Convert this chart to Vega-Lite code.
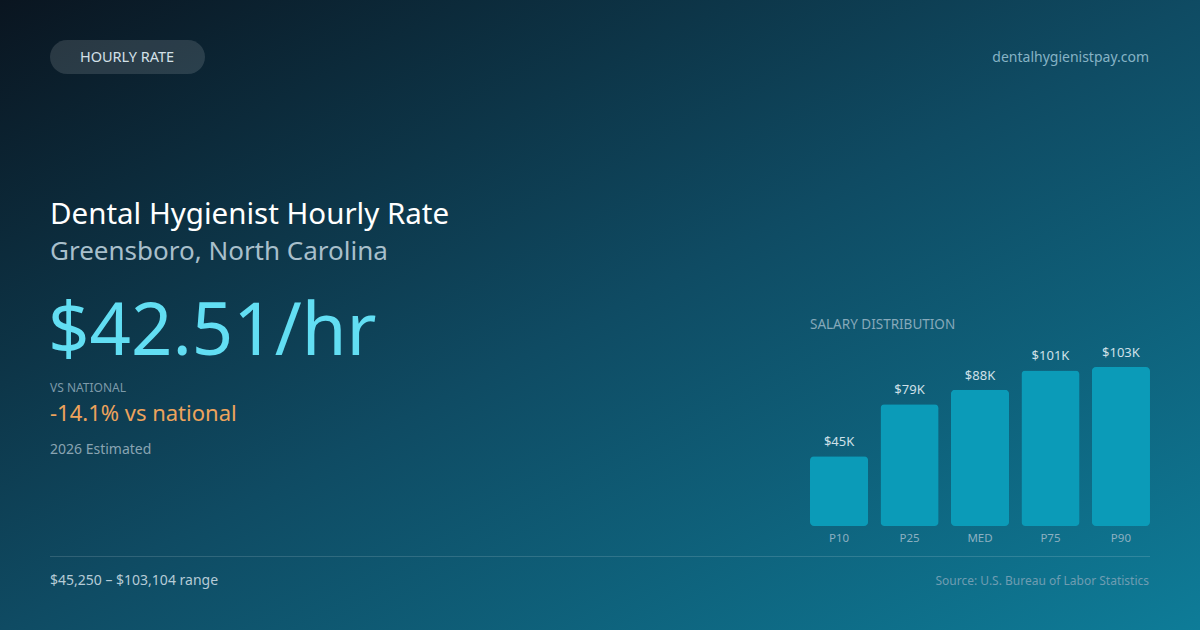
{
  "$schema": "https://vega.github.io/schema/vega-lite/v6.json",
  "width": 1200,
  "height": 630,
  "padding": 0,
  "autosize": {"type": "fit", "contains": "padding"},
  "background": "#0c1824",
  "config": {
    "view": {"stroke": null, "fill": {"gradient": "linear", "x1": 0, "y1": 0, "x2": 1, "y2": 1, "stops": [{"offset": 0, "color": "#0a1520"}, {"offset": 0.5, "color": "#0f4b63"}, {"offset": 1, "color": "#0e7c98"}]}},
    "font": "Noto Sans",
    "text": {"font": "Noto Sans"}
  },
  "datasets": {
    "dist": [
      {"pct": "P10", "salary": 45250, "label": "$45K"},
      {"pct": "P25", "salary": 79000, "label": "$79K"},
      {"pct": "MED", "salary": 88420, "label": "$88K"},
      {"pct": "P75", "salary": 100900, "label": "$101K"},
      {"pct": "P90", "salary": 103104, "label": "$103K"}
    ],
    "one": [{}]
  },
  "layer": [
    {
      "data": {"name": "one"},
      "mark": {"type": "rect", "cornerRadius": 17, "fill": "#ffffff", "fillOpacity": 0.13},
      "encoding": {"x": {"value": 50}, "x2": {"value": 205}, "y": {"value": 40}, "y2": {"value": 74}}
    },
    {
      "data": {"name": "one"},
      "mark": {"type": "text", "text": "HOURLY RATE", "align": "center", "baseline": "middle", "fontSize": 14.5, "color": "#d3e0e8"},
      "encoding": {"x": {"value": 127}, "y": {"value": 58}}
    },
    {
      "data": {"name": "one"},
      "mark": {"type": "text", "text": "dentalhygienistpay.com", "align": "right", "baseline": "middle", "fontSize": 14, "color": "#86b3c5"},
      "encoding": {"x": {"value": 1149}, "y": {"value": 58}}
    },
    {
      "data": {"name": "one"},
      "mark": {"type": "text", "text": "Dental Hygienist Hourly Rate", "align": "left", "baseline": "alphabetic", "fontSize": 29.5, "color": "#ffffff"},
      "encoding": {"x": {"value": 50}, "y": {"value": 224}}
    },
    {
      "data": {"name": "one"},
      "mark": {"type": "text", "text": "Greensboro, North Carolina", "align": "left", "baseline": "alphabetic", "fontSize": 26, "color": "#a8bfcb"},
      "encoding": {"x": {"value": 50}, "y": {"value": 260}}
    },
    {
      "data": {"name": "one"},
      "mark": {"type": "text", "text": "$42.51/hr", "align": "left", "baseline": "alphabetic", "fontSize": 72.5, "color": "#62def3"},
      "encoding": {"x": {"value": 48}, "y": {"value": 355}}
    },
    {
      "data": {"name": "one"},
      "mark": {"type": "text", "text": "VS NATIONAL", "align": "left", "baseline": "alphabetic", "fontSize": 12, "color": "#7d9aa9"},
      "encoding": {"x": {"value": 50}, "y": {"value": 392}}
    },
    {
      "data": {"name": "one"},
      "mark": {"type": "text", "text": "-14.1% vs national", "align": "left", "baseline": "alphabetic", "fontSize": 22, "color": "#eda35c"},
      "encoding": {"x": {"value": 50}, "y": {"value": 421}}
    },
    {
      "data": {"name": "one"},
      "mark": {"type": "text", "text": "2026 Estimated", "align": "left", "baseline": "alphabetic", "fontSize": 14, "color": "#89a4b2"},
      "encoding": {"x": {"value": 50}, "y": {"value": 454}}
    },
    {
      "data": {"name": "one"},
      "mark": {"type": "text", "text": "SALARY DISTRIBUTION", "align": "left", "baseline": "middle", "fontSize": 13.5, "color": "#86a9ba"},
      "encoding": {"x": {"value": 810}, "y": {"value": 325}}
    },
    {
      "data": {"name": "one"},
      "mark": {"type": "rule", "stroke": "#ffffff", "strokeOpacity": 0.14, "strokeWidth": 1},
      "encoding": {"x": {"value": 50}, "x2": {"value": 1150}, "y": {"value": 556.5}}
    },
    {
      "data": {"name": "one"},
      "mark": {"type": "text", "text": "$45,250 – $103,104 range", "align": "left", "baseline": "middle", "fontSize": 14, "color": "#b6cbd6"},
      "encoding": {"x": {"value": 50}, "y": {"value": 581}}
    },
    {
      "data": {"name": "one"},
      "mark": {"type": "text", "text": "Source: U.S. Bureau of Labor Statistics", "align": "right", "baseline": "middle", "fontSize": 12, "color": "#6f9db2"},
      "encoding": {"x": {"value": 1149}, "y": {"value": 581}}
    },
    {
      "data": {"name": "dist"},
      "layer": [
        {
          "mark": {"type": "bar", "cornerRadius": 4, "color": "#0b9bb8"},
          "encoding": {
            "x": {"field": "pct", "type": "nominal", "sort": null, "axis": null, "scale": {"domain": ["P10", "P25", "MED", "P75", "P90"], "range": [810, 1150], "paddingInner": 0.175, "paddingOuter": 0}},
            "y": {"field": "salary", "type": "quantitative", "axis": null, "scale": {"domain": [0, 103104], "range": [526, 367], "nice": false, "zero": true}}
          }
        },
        {
          "mark": {"type": "text", "baseline": "bottom", "dy": -7, "fontSize": 13, "color": "#cfe0e8"},
          "encoding": {
            "x": {"field": "pct", "type": "nominal", "sort": null},
            "y": {"field": "salary", "type": "quantitative"},
            "text": {"field": "label"}
          }
        },
        {
          "mark": {"type": "text", "baseline": "middle", "dy": 13, "fontSize": 11.5, "color": "#8cb0c1"},
          "encoding": {
            "x": {"field": "pct", "type": "nominal", "sort": null},
            "y": {"datum": 0, "type": "quantitative"},
            "text": {"field": "pct"}
          }
        }
      ]
    }
  ]
}
